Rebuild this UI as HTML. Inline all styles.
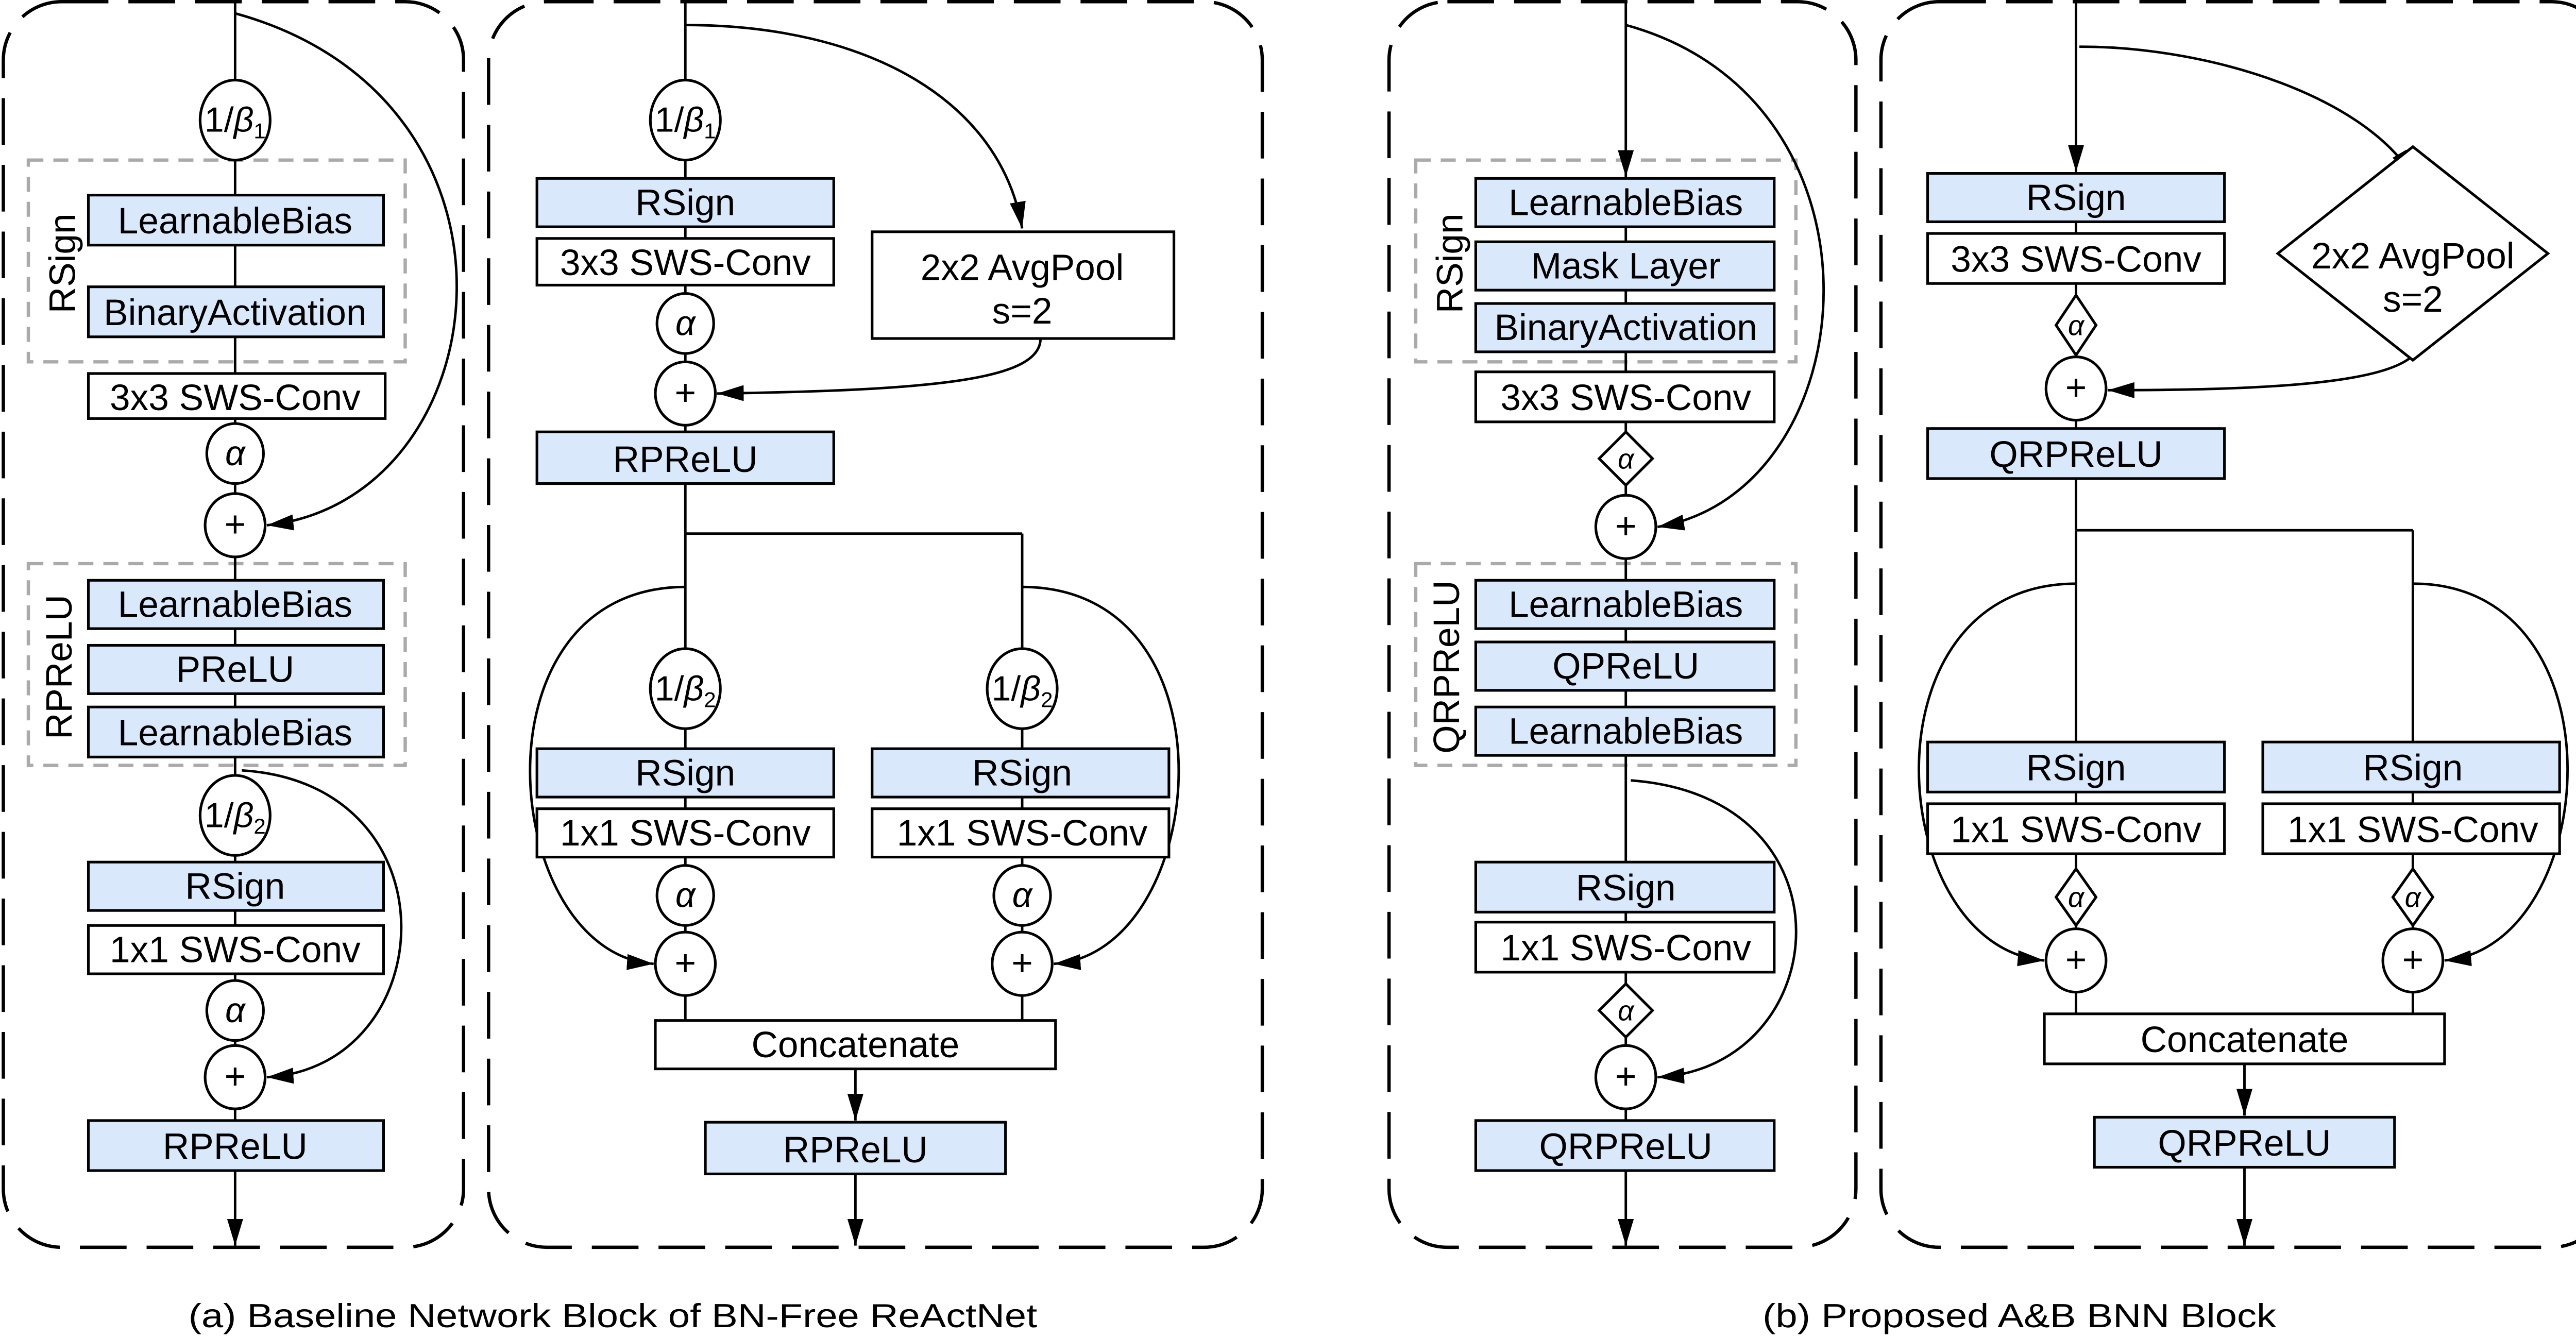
<!DOCTYPE html>
<html><head><meta charset="utf-8"><style>
html,body{margin:0;padding:0;background:#fff;width:5075px;height:2595px;overflow:hidden}
svg{display:block}
text{font-family:"Liberation Sans",Arial,sans-serif;fill:#000}
</style></head><body>
<svg width="5075" height="2595" viewBox="0 0 1568 801.8" preserveAspectRatio="none" xmlns="http://www.w3.org/2000/svg">
<defs>
<marker id="b" viewBox="0 0 10 10" refX="10" refY="5" markerWidth="16" markerHeight="16" markerUnits="userSpaceOnUse" orient="auto"><path d="M0,2 L10,5 L0,8 z" fill="#000"/></marker>
</defs>
<g fill="none" stroke="#000" stroke-width="2" stroke-dasharray="28,12">
<rect x="2" y="1" width="276" height="747" rx="35"/>
<rect x="293" y="1" width="464" height="747" rx="35"/>
<rect x="833" y="1" width="280" height="747" rx="35"/>
<rect x="1128" y="1" width="437" height="747" rx="35"/>
</g>
<g fill="none" stroke="#aaa" stroke-width="2" stroke-dasharray="9,6">
<rect x="17" y="96" width="226" height="121"/>
<rect x="17" y="338" width="226" height="121"/>
<rect x="849" y="96" width="228" height="121"/>
<rect x="849" y="338" width="228" height="121"/>
</g>
<g stroke="#000" stroke-width="1.5" fill="none">
<line x1="141" y1="0" x2="141" y2="702"/>
<line x1="141" y1="702" x2="141" y2="747" marker-end="url(#b)"/>
<path d="M141,8 C330,60 300,300 160,315" marker-end="url(#b)"/>
<path d="M145,462 C275,470 265,640 160,646" marker-end="url(#b)"/>
<line x1="411" y1="0" x2="411" y2="320"/>
<line x1="411" y1="320" x2="613" y2="320"/>
<line x1="411" y1="320" x2="411" y2="612"/>
<line x1="613" y1="320" x2="613" y2="612"/>
<path d="M411,15 C520,15 600,60 613,137" marker-end="url(#b)"/>
<path d="M624,203 C624,228 560,234 430,236" marker-end="url(#b)"/>
<path d="M411,352 C280,352 300,572 392,578" marker-end="url(#b)"/>
<path d="M613,352 C745,352 725,572 632,578" marker-end="url(#b)"/>
<line x1="513" y1="641" x2="513" y2="672" marker-end="url(#b)"/>
<line x1="513" y1="704" x2="513" y2="747" marker-end="url(#b)"/>
<line x1="975" y1="0" x2="975" y2="106" marker-end="url(#b)"/>
<line x1="975" y1="106" x2="975" y2="702"/>
<line x1="975" y1="702" x2="975" y2="747" marker-end="url(#b)"/>
<path d="M975,15 C1140,60 1120,295 994,316" marker-end="url(#b)"/>
<path d="M978,468 C1115,478 1100,640 994,646" marker-end="url(#b)"/>
<line x1="1245" y1="0" x2="1245" y2="103" marker-end="url(#b)"/>
<line x1="1245" y1="103" x2="1245" y2="318"/>
<line x1="1245" y1="318" x2="1447" y2="318"/>
<line x1="1245" y1="318" x2="1245" y2="608"/>
<line x1="1447" y1="318" x2="1447" y2="608"/>
<path d="M1247,28 C1330,28 1420,60 1447,106" marker-end="url(#b)"/>
<path d="M1452,205 C1448,228 1380,234 1264,234" marker-end="url(#b)"/>
<path d="M1245,350 C1115,350 1130,568 1226,576" marker-end="url(#b)"/>
<path d="M1447,350 C1575,350 1560,568 1466,576" marker-end="url(#b)"/>
<line x1="1346" y1="638" x2="1346" y2="669" marker-end="url(#b)"/>
<line x1="1346" y1="700" x2="1346" y2="747" marker-end="url(#b)"/>
</g>
<g stroke="#000" stroke-width="1.6">
<g fill="#dae8fc">
<rect x="53" y="117" width="177" height="30"/><rect x="53" y="172" width="177" height="30"/>
<rect x="53" y="348" width="177" height="29"/><rect x="53" y="387" width="177" height="29"/><rect x="53" y="424" width="177" height="30"/>
<rect x="53" y="517" width="177" height="29"/><rect x="53" y="672" width="177" height="30"/>
<rect x="322" y="107" width="178" height="29"/><rect x="322" y="259" width="178" height="31"/>
<rect x="322" y="449" width="178" height="29"/><rect x="523" y="449" width="178" height="29"/>
<rect x="423" y="673" width="180" height="31"/>
<rect x="885" y="107" width="179" height="29"/><rect x="885" y="145" width="179" height="29"/><rect x="885" y="182" width="179" height="29"/>
<rect x="885" y="348" width="179" height="29"/><rect x="885" y="385" width="179" height="29"/><rect x="885" y="424" width="179" height="29"/>
<rect x="885" y="517" width="179" height="30"/><rect x="885" y="672" width="179" height="30"/>
<rect x="1156" y="104" width="178" height="29"/><rect x="1156" y="257" width="178" height="30"/>
<rect x="1156" y="445" width="178" height="30"/><rect x="1357" y="445" width="178" height="30"/>
<rect x="1256" y="670" width="180" height="30"/>
</g>
<g fill="#fff">
<rect x="53" y="224" width="178" height="27"/><rect x="53" y="555" width="177" height="29"/>
<rect x="322" y="143" width="178" height="28"/><rect x="523" y="139" width="181" height="64"/>
<rect x="322" y="485" width="178" height="29"/><rect x="523" y="485" width="178" height="29"/>
<rect x="393" y="612" width="240" height="29"/>
<rect x="885" y="223" width="179" height="30"/><rect x="885" y="553" width="179" height="30"/>
<rect x="1156" y="140" width="178" height="30"/><path d="M1447,88 L1528,152 L1447,216 L1366,152 z"/>
<rect x="1156" y="482" width="178" height="30"/><rect x="1357" y="482" width="178" height="30"/>
<rect x="1226" y="608" width="240" height="30"/>
<ellipse cx="141" cy="72" rx="21" ry="24"/><ellipse cx="141" cy="272" rx="17" ry="18"/><ellipse cx="141" cy="315" rx="18" ry="19"/>
<ellipse cx="141" cy="489" rx="21" ry="24"/><ellipse cx="141" cy="606" rx="17" ry="18"/><ellipse cx="141" cy="646" rx="18" ry="19"/>
<ellipse cx="411" cy="72" rx="21" ry="24"/><ellipse cx="411" cy="194" rx="17" ry="18"/><ellipse cx="411" cy="236" rx="18" ry="19"/>
<ellipse cx="411" cy="413" rx="21" ry="24"/><ellipse cx="411" cy="537" rx="17" ry="18"/><ellipse cx="411" cy="578" rx="18" ry="19"/>
<ellipse cx="613" cy="413" rx="21" ry="24"/><ellipse cx="613" cy="537" rx="17" ry="18"/><ellipse cx="613" cy="578" rx="18" ry="19"/>
<ellipse cx="975" cy="316" rx="18" ry="19"/><ellipse cx="975" cy="646" rx="18" ry="19"/>
<ellipse cx="1245" cy="233" rx="18" ry="19"/><ellipse cx="1245" cy="576" rx="18" ry="19"/><ellipse cx="1447" cy="576" rx="18" ry="19"/>
<path d="M975,259 L991,275 L975,291 L959,275 z"/><path d="M975,590 L991,606 L975,622 L959,606 z"/>
<path d="M1245,177 L1257,195 L1245,213 L1233,195 z"/>
<path d="M1245,521 L1257,538 L1245,555 L1233,538 z"/><path d="M1447,521 L1459,538 L1447,555 L1435,538 z"/>
</g>
</g>
<g font-size="22" text-anchor="middle" transform="translate(0,1)">
<text x="141" y="139">LearnableBias</text><text x="141" y="194">BinaryActivation</text>
<text x="141" y="245">3x3 SWS-Conv</text>
<text x="141" y="369">LearnableBias</text><text x="141" y="408">PReLU</text><text x="141" y="446">LearnableBias</text>
<text x="141" y="538">RSign</text><text x="141" y="576">1x1 SWS-Conv</text><text x="141" y="694">RPReLU</text>
<text x="411" y="128">RSign</text><text x="411" y="164">3x3 SWS-Conv</text>
<text x="613" y="167">2x2 AvgPool</text><text x="613" y="193">s=2</text>
<text x="411" y="282">RPReLU</text>
<text x="411" y="470">RSign</text><text x="411" y="506">1x1 SWS-Conv</text>
<text x="613" y="470">RSign</text><text x="613" y="506">1x1 SWS-Conv</text>
<text x="513" y="633">Concatenate</text><text x="513" y="696">RPReLU</text>
<text x="975" y="128">LearnableBias</text><text x="975" y="166">Mask Layer</text><text x="975" y="203">BinaryActivation</text>
<text x="975" y="245">3x3 SWS-Conv</text>
<text x="975" y="369">LearnableBias</text><text x="975" y="406">QPReLU</text><text x="975" y="445">LearnableBias</text>
<text x="975" y="539">RSign</text><text x="975" y="575">1x1 SWS-Conv</text><text x="975" y="694">QRPReLU</text>
<text x="1245" y="125">RSign</text><text x="1245" y="162">3x3 SWS-Conv</text><text x="1245" y="279">QRPReLU</text>
<text x="1447" y="160">2x2 AvgPool</text><text x="1447" y="186">s=2</text>
<text x="1245" y="467">RSign</text><text x="1245" y="504">1x1 SWS-Conv</text>
<text x="1447" y="467">RSign</text><text x="1447" y="504">1x1 SWS-Conv</text>
<text x="1346" y="630">Concatenate</text><text x="1346" y="692">QRPReLU</text>
<text transform="translate(45,157) rotate(-90)">RSign</text>
<text transform="translate(43,399) rotate(-90)">RPReLU</text>
<text transform="translate(877,157) rotate(-90)">RSign</text>
<text transform="translate(875,399) rotate(-90)">QRPReLU</text>
</g>
<g font-size="21" text-anchor="middle">
<text x="141" y="79">1/<tspan font-style="italic">β</tspan><tspan font-size="13" dy="4">1</tspan></text>
<text x="141" y="496">1/<tspan font-style="italic">β</tspan><tspan font-size="13" dy="4">2</tspan></text>
<text x="411" y="79">1/<tspan font-style="italic">β</tspan><tspan font-size="13" dy="4">1</tspan></text>
<text x="411" y="420">1/<tspan font-style="italic">β</tspan><tspan font-size="13" dy="4">2</tspan></text>
<text x="613" y="420">1/<tspan font-style="italic">β</tspan><tspan font-size="13" dy="4">2</tspan></text>
<g font-style="italic">
<text x="141" y="279">α</text><text x="141" y="613">α</text>
<text x="411" y="201">α</text><text x="411" y="544">α</text><text x="613" y="544">α</text>
<text x="975" y="281" font-size="17">α</text><text x="975" y="612" font-size="17">α</text>
<text x="1245" y="201" font-size="17">α</text><text x="1245" y="544" font-size="17">α</text><text x="1447" y="544" font-size="17">α</text>
</g>
<g font-size="22">
<text x="141" y="322">+</text><text x="141" y="653">+</text>
<text x="411" y="243">+</text><text x="411" y="585">+</text><text x="613" y="585">+</text>
<text x="975" y="323">+</text><text x="975" y="653">+</text>
<text x="1245" y="240">+</text><text x="1245" y="583">+</text><text x="1447" y="583">+</text>
</g>
</g>
<g font-size="20">
<text x="113" y="796" textLength="509" lengthAdjust="spacingAndGlyphs">(a)  Baseline Network Block of BN-Free ReActNet</text>
<text x="1057" y="796" textLength="308" lengthAdjust="spacingAndGlyphs">(b)  Proposed A&amp;B BNN Block</text>
</g>
</svg>
</body></html>
